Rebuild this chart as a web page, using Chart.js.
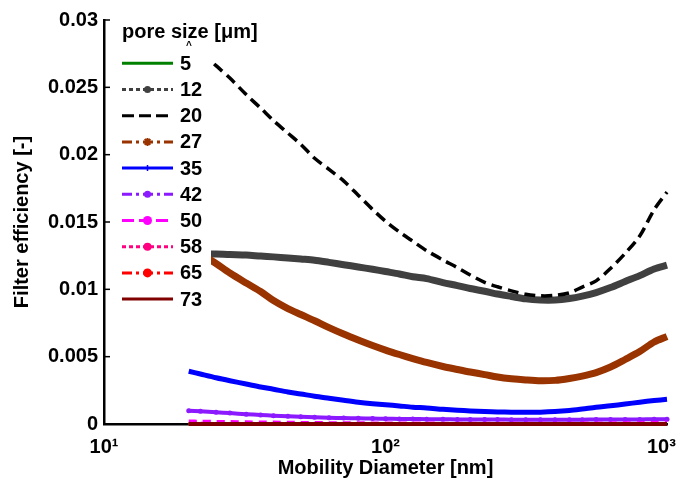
<!DOCTYPE html>
<html>
<head>
<meta charset="utf-8">
<script src="https://cdn.jsdelivr.net/npm/chart.js@4/dist/chart.umd.min.js"></script>
<style>
html,body{margin:0;padding:0;background:#fff;}
canvas{display:block;}
</style>
</head>
<body>
<canvas id="c" width="680" height="483"></canvas>
<script>
// ---- data ----
const diameters = [20,22,25,28,32,36,40,45,50,56,63,71,80,90,100,112,125,140,160,180,200,225,250,280,315,355,400,450,500,560,630,710,800,900,1000];
const poreSizes = ['5','12','20','27','35','42','50','58','65','73'];

const eff5  = [0,0,0,0,0,0,0,0,0,0,0,0,0,0,0,0,0,0,0,0,0,0,0,0,0,0,0,0,0,0,0,0,0,0,0];
const eff12 = [0.01266,0.01264,0.01262,0.01258,0.01255,0.01247,0.01241,0.01233,0.01225,0.01216,0.01200,0.01183,0.01166,0.01149,0.01132,0.01114,0.01094,0.01080,0.01050,0.01028,0.01006,0.00986,0.00965,0.00947,0.00929,0.00921,0.00921,0.00932,0.00950,0.00976,0.01013,0.01058,0.01102,0.01151,0.01180];
const eff20 = [0.02843,0.02765,0.02661,0.02569,0.02446,0.02346,0.02253,0.02160,0.02077,0.01973,0.01891,0.01805,0.01699,0.01593,0.01506,0.01426,0.01357,0.01287,0.01218,0.01161,0.01106,0.01052,0.01019,0.00989,0.00964,0.00952,0.00955,0.00974,0.01017,0.01063,0.01155,0.01267,0.01396,0.01591,0.01722];
const eff27 = [0.01321,0.01266,0.01192,0.01121,0.01047,0.00984,0.00917,0.00857,0.00813,0.00767,0.00716,0.00668,0.00624,0.00583,0.00549,0.00516,0.00486,0.00457,0.00427,0.00405,0.00386,0.00367,0.00349,0.00336,0.00327,0.00321,0.00324,0.00338,0.00356,0.00382,0.00423,0.00479,0.00538,0.00609,0.00650];
const eff35 = [0.00392,0.00371,0.00343,0.00321,0.00297,0.00275,0.00258,0.00238,0.00223,0.00206,0.00191,0.00176,0.00162,0.00151,0.00143,0.00134,0.00125,0.00119,0.00109,0.00102,0.00097,0.00092,0.00089,0.00088,0.00087,0.00088,0.00092,0.00100,0.00111,0.00124,0.00135,0.00148,0.00162,0.00174,0.00184];
const eff42 = [0.00099,0.00094,0.00087,0.00081,0.00073,0.00067,0.00062,0.00057,0.00054,0.00050,0.00047,0.00044,0.00042,0.00040,0.00039,0.00038,0.00037,0.00036,0.00035,0.00034,0.00034,0.00033,0.00033,0.00032,0.00032,0.00032,0.00032,0.00032,0.00032,0.00033,0.00033,0.00034,0.00034,0.00035,0.00036];
const eff50 = [0.00022,0.00021,0.00019,0.00018,0.00016,0.00015,0.00014,0.00013,0.00012,0.00011,0.00010,0.00009,0.00009,0.00008,0.00008,0.00007,0.00007,0.00007,0.00006,0.00006,0.00006,0.00006,0.00006,0.00006,0.00006,0.00006,0.00006,0.00006,0.00007,0.00007,0.00008,0.00009,0.00010,0.00012,0.00014];
const eff58 = [0.00005,0.00005,0.00004,0.00004,0.00004,0.00004,0.00003,0.00003,0.00003,0.00003,0.00003,0.00003,0.00002,0.00002,0.00002,0.00002,0.00002,0.00002,0.00002,0.00002,0.00002,0.00002,0.00002,0.00002,0.00002,0.00002,0.00002,0.00002,0.00002,0.00002,0.00002,0.00002,0.00003,0.00003,0.00003];
const eff65 = [0.00002,0.00002,0.00002,0.00002,0.00002,0.00002,0.00001,0.00001,0.00001,0.00001,0.00001,0.00001,0.00001,0.00001,0.00001,0.00001,0.00001,0.00001,0.00001,0.00001,0.00001,0.00001,0.00001,0.00001,0.00001,0.00001,0.00001,0.00001,0.00001,0.00001,0.00001,0.00001,0.00001,0.00001,0.00001];
const eff73 = [0,0,0,0,0,0,0,0,0,0,0,0,0,0,0,0,0,0,0,0,0,0,0,0,0,0,0,0,0,0,0,0,0,0,0];

const xTickValues = [10, 100, 1000];
const xTickLabels = ['10\u00B9', '10\u00B2', '10\u00B3  '];
const yTickValues = [0, 0.005, 0.01, 0.015, 0.02, 0.025, 0.03];
const yTickLabels = ['0', '0.005', '0.01', '0.015', '0.02', '0.025', '0.03'];

// ---- styles ----
const seriesValues = [eff5, eff12, eff20, eff27, eff35, eff42, eff50, eff58, eff65, eff73];
const colors = ['#008000','#404040','#000000','#993300','#0000ff','#8c1aff','#ff00ff','#ff0080','#ff0000','#800000'];
const plotWidths = [3, 7, 3.5, 7, 5, 4, 3, 3, 3, 4];
const plotDashes = [[], [], [11,6], [], [], [], [8,6], [2,4], [], []];
const plotPoints = [0, 0, 0, 0, 0, 2.5, 0, 0, 0, 0];
const legendDash = [[], [4,3], [12,5], [10,4,3,4], [], [10,4,3,4], [12,5], [4,3], [10,4,3,4], []];
const legendMarker = ['none','circle','none','star','plus','circle','circle','circle','circle','none'];
const legendMarkerR = [0, 3.5, 0, 4, 3, 3.5, 4.5, 4, 4.5, 0];

const FONT = "'Liberation Sans', Arial, Helvetica, sans-serif";
const FS = 20;
Chart.defaults.font.family = FONT;
Chart.defaults.color = '#000';

const datasets = poreSizes.map((p, i) => ({
  label: p,
  data: diameters.map((d, j) => ({x: d, y: seriesValues[i][j]})),
  borderColor: colors[i],
  backgroundColor: colors[i],
  borderWidth: plotWidths[i],
  borderDash: plotDashes[i],
  pointRadius: plotPoints[i],
  pointBorderWidth: 0,
  tension: 0.3,
  fill: false,
  clip: 12,
  order: 20 - i
}));

const legendPlugin = {
  id: 'poreLegend',
  afterDatasetsDraw(chart) {
    const ctx = chart.ctx, a = chart.chartArea;
    ctx.save();
    ctx.fillStyle = '#ffffff';
    ctx.fillRect(a.left + 3, a.top - 2, 104, 297);
    ctx.fillStyle = '#000';
    ctx.textAlign = 'left';
    ctx.textBaseline = 'middle';
    ctx.font = 'bold ' + FS + 'px ' + FONT;
    ctx.fillText('pore size [\u03BCm]', a.left + 18, a.top + 12);
    ctx.font = 'bold 10px ' + FONT;
    ctx.fillText('^', a.left + 82, a.top + 26);
    chart.data.datasets.forEach((ds, i) => {
      const y = a.top + 43.3 + i * 26.2;
      const x0 = a.left + 18, x1 = a.left + 69, xm = (x0 + x1) / 2;
      ctx.strokeStyle = ds.borderColor;
      ctx.lineWidth = 3;
      ctx.setLineDash(legendDash[i]);
      ctx.beginPath(); ctx.moveTo(x0, y); ctx.lineTo(x1, y); ctx.stroke();
      ctx.setLineDash([]);
      const r = legendMarkerR[i];
      ctx.fillStyle = ds.borderColor;
      if (legendMarker[i] === 'circle') {
        ctx.beginPath(); ctx.arc(xm, y, r, 0, Math.PI * 2); ctx.fill();
      } else if (legendMarker[i] === 'star') {
        ctx.lineWidth = 2;
        ctx.beginPath();
        for (let k = 0; k < 4; k++) {
          const ang = k * Math.PI / 4;
          ctx.moveTo(xm - r * Math.cos(ang), y - r * Math.sin(ang));
          ctx.lineTo(xm + r * Math.cos(ang), y + r * Math.sin(ang));
        }
        ctx.stroke();
      } else if (legendMarker[i] === 'plus') {
        ctx.lineWidth = 1.5;
        ctx.beginPath();
        ctx.moveTo(xm - r, y); ctx.lineTo(xm + r, y);
        ctx.moveTo(xm, y - r); ctx.lineTo(xm, y + r);
        ctx.stroke();
      }
      ctx.fillStyle = '#000';
      ctx.font = 'bold ' + FS + 'px ' + FONT;
      ctx.fillText(ds.label, a.left + 76, y + 1);
    });
    ctx.restore();
  },
  afterDraw(chart) {
    const ctx = chart.ctx, a = chart.chartArea, ys = chart.scales.y;
    ctx.save();
    ctx.strokeStyle = '#000';
    ctx.lineWidth = 1.5;
    ys.ticks.forEach(t => {
      const py = ys.getPixelForValue(t.value);
      ctx.beginPath(); ctx.moveTo(a.left, py); ctx.lineTo(a.left + 6, py); ctx.stroke();
    });
    ctx.restore();
  }
};

new Chart(document.getElementById('c'), {
  type: 'line',
  data: { datasets },
  options: {
    responsive: false,
    animation: false,
    devicePixelRatio: 1,
    layout: { autoPadding: false, padding: { left: 0, right: 13, top: 20, bottom: 0 } },
    plugins: { legend: { display: false }, tooltip: { enabled: false } },
    scales: {
      x: {
        type: 'logarithmic',
        min: 10, max: 1000,
        afterBuildTicks: s => { s.ticks = xTickValues.map(v => ({ value: v })); },
        afterFit: s => { s.height = 59; s.paddingLeft = 0; s.paddingRight = 0; },
        grid: { drawOnChartArea: false, drawTicks: false },
        border: { display: true, color: '#000', width: 2.5 },
        ticks: {
          callback: (v, i) => xTickLabels[i],
          font: { size: FS, weight: 'bold' },
          color: '#000', padding: 11, maxRotation: 0, autoSkip: false
        },
        title: {
          display: true, text: 'Mobility Diameter [nm]',
          font: { size: FS, weight: 'bold' }, color: '#000',
          padding: { top: 0, bottom: 3 }
        }
      },
      y: {
        min: 0, max: 0.03,
        afterBuildTicks: s => { s.ticks = yTickValues.map(v => ({ value: v })); },
        afterFit: s => { s.width = 104; s.paddingTop = 0; s.paddingBottom = 0; },
        grid: { drawOnChartArea: false, drawTicks: false },
        border: { display: true, color: '#000', width: 2.5 },
        ticks: {
          callback: (v, i) => yTickLabels[i],
          font: { size: FS, weight: 'bold' },
          color: '#000', padding: 6, autoSkip: false
        },
        title: {
          display: true, text: 'Filter efficiency [-]',
          font: { size: FS, weight: 'bold' }, color: '#000',
          padding: { top: 10, bottom: 0 }
        }
      }
    }
  },
  plugins: [legendPlugin]
});
</script>
</body>
</html>
